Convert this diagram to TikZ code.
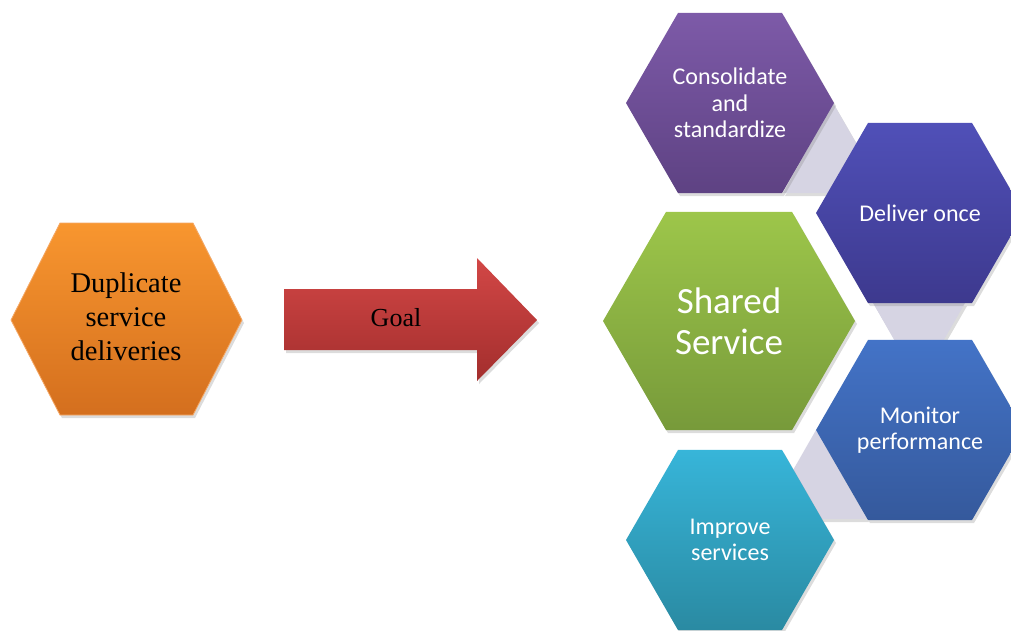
\documentclass[tikz,border=0pt]{standalone}
\usepackage{fontspec}
\setmainfont{Liberation Serif}
\newfontfamily\calfont{Carlito}
\usetikzlibrary{shapes.geometric,shadows,calc}
\definecolor{orT}{HTML}{F8962F}
\definecolor{orB}{HTML}{D46F1E}
\definecolor{orD}{HTML}{F5A865}
\definecolor{rdT}{HTML}{D24746}
\definecolor{rdB}{HTML}{A32E2D}
\definecolor{puT}{HTML}{7D5AA8}
\definecolor{puB}{HTML}{5E4283}
\definecolor{inT}{HTML}{5050B8}
\definecolor{inB}{HTML}{3D398E}
\definecolor{grT}{HTML}{9DC64A}
\definecolor{grB}{HTML}{779A3A}
\definecolor{blT}{HTML}{4373C7}
\definecolor{blB}{HTML}{35599C}
\definecolor{cyT}{HTML}{37B5D9}
\definecolor{cyB}{HTML}{2A8AA2}
\definecolor{lnk}{HTML}{D6D4E3}
\begin{document}
\begin{tikzpicture}[x=1pt,y=-1pt,
  shad/.style={drop shadow={opacity=0.28,shadow xshift=2pt,shadow yshift=-3pt}},
  hexa/.style={regular polygon, regular polygon sides=6, minimum size=#1,
    inner sep=0pt, outer sep=0pt, draw=none, shad, text=white, align=center,
    font=\calfont\fontsize{24}{26.5}\selectfont},
  link/.style={fill=lnk, draw=none, shad}
]
\useasboundingbox (0,0) rectangle (1011,630);

% left hexagon
\path[shad, top color=orT, bottom color=orB, draw=orD, line width=0.8pt]
  (11,320) -- (60,223) -- (193,223) -- (242,320) -- (193,415) -- (60,415) -- cycle;
\node[align=center, font=\fontsize{28.5}{34}\selectfont] (dup) at (126,317)
  {Duplicate\\service\\deliveries};

% arrow
\path[shad, top color=rdT, bottom color=rdB]
  (284,289) -- (477,289) -- (477,258) -- (537,320) -- (477,381) -- (477,350) -- (284,350) -- cycle;
\node[font=\fontsize{26}{30}\selectfont] (goal) at (396,318) {Goal};

% link triangles (behind)
\coordinate (c1) at (833,103);
\coordinate (c2) at (919,303);
\coordinate (c3) at (816,430);
\path[link] (c1) -- ($(c1)+(52,90)$) -- ($(c1)+(-50,90)$) -- cycle;
\path[link] ($(c2)+(-46,0)$) -- ($(c2)+(46,0)$) -- ($(c2)+(0,80)$) -- cycle;
\path[link] (c3) -- ($(c3)+(51,89)$) -- ($(c3)+(-51,89)$) -- cycle;

% hexagons
\node[hexa=208pt, top color=puT, bottom color=puB] (cons) at (730,103)
  {Consolidate\\and\\standardize};
\node[hexa=208pt, top color=inT, bottom color=inB] (deliv) at (920,213)
  {Deliver once};
\node[hexa=252pt, top color=grT, bottom color=grB,
  font=\calfont\fontsize{37}{41}\selectfont] (shared) at (729,321)
  {Shared\\Service};
\node[hexa=208pt, top color=blT, bottom color=blB] (monit) at (920,430)
  {Monitor\\performance};
\node[hexa=208pt, top color=cyT, bottom color=cyB] (impr) at (730,540)
  {Improve\\services};
\end{tikzpicture}
\end{document}
